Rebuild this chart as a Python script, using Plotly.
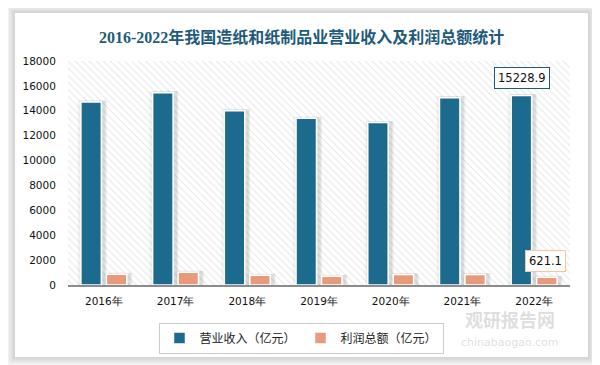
import plotly.graph_objects as go

# ---- data ----
years = ["2016年", "2017年", "2018年", "2019年", "2020年", "2021年", "2022年"]
revenue = [14700, 15450, 14000, 13400, 13050, 15050, 15228.9]
profit = [860, 1020, 780, 700, 835, 840, 621.1]
rev_name = "营业收入（亿元）"
pro_name = "利润总额（亿元）"
title_text = "2016-2022年我国造纸和纸制品业营业收入及利润总额统计"
y_ticks = list(range(0, 18001, 2000))

# ---- geometry / style ----
# the page body has an 8px margin, so the figure is 8px smaller and
# all page coordinates are converted by subtracting that offset
OFF = 8
W, H = 600 - OFF, 365 - OFF
PL, PR, PT, PB = 68, 570, 61, 285          # plot area in page pixels
L, R, T, B = PL - OFF, 600 - PR, PT - OFF, 365 - PB
PW, PH = W - L - R, H - T - B
REV_C = "#1c6b8f"
PRO_C = "#e89b7b"
TITLE_C = "#1e5b7a"
TICK_FONT = dict(family="Tahoma, DejaVu Sans, sans-serif", size=10.5, color="#111")


def px_x(p):
    return (p - PL) / PW


def px_y(p):
    return (PB - p) / PH


fig = go.Figure()

# hatched plot-area background (base axes, drawn beneath the bars)
fig.add_trace(go.Scatter(
    x=[0, 1, 1, 0, 0], y=[0, 0, 1, 1, 0], xaxis="x", yaxis="y",
    mode="none", fill="toself", fillcolor="white",
    fillpattern=dict(shape="\\", size=5, solidity=0.18, fgcolor="#c9c9c9", bgcolor="white"),
    hoverinfo="skip", showlegend=False))

BW = 0.285
REV_OFF = -0.32
PRO_OFF = 0.035

# soft shadows (several faint layers to imitate a blur)
for dx, extra, alpha in [(0.0, 0.13, 0.03), (0.008, 0.09, 0.045), (0.016, 0.05, 0.06)]:
    fig.add_trace(go.Bar(x=years, y=[v + 120 for v in revenue], xaxis="x2", yaxis="y2",
                         width=BW + extra, offset=REV_OFF - extra / 2 + dx + 0.015,
                         marker=dict(color=f"rgba(0,0,0,{alpha})", line=dict(width=0)),
                         hoverinfo="skip", showlegend=False))
    fig.add_trace(go.Bar(x=years, y=[v + 120 for v in profit], xaxis="x2", yaxis="y2",
                         width=BW + extra, offset=PRO_OFF - extra / 2 + dx + 0.015,
                         marker=dict(color=f"rgba(0,0,0,{alpha})", line=dict(width=0)),
                         hoverinfo="skip", showlegend=False))

fig.add_trace(go.Bar(x=years, y=revenue, name=rev_name, xaxis="x2", yaxis="y2",
                     width=BW, offset=REV_OFF,
                     marker=dict(color=REV_C, line=dict(color="white", width=1.5))))
fig.add_trace(go.Bar(x=years, y=profit, name=pro_name, xaxis="x2", yaxis="y2",
                     width=BW, offset=PRO_OFF,
                     marker=dict(color=PRO_C, line=dict(color="white", width=1.5))))

# card with shadow
shapes = []
cx0, cx1, cy0, cy1 = 15, 588, 13, 357
for i in range(6, 0, -1):
    shapes.append(dict(type="rect", xref="paper", yref="paper", layer="below",
                       x0=px_x(cx0 - i * 1.5), x1=px_x(cx1 + i * 1.5),
                       y0=px_y(cy1 + i * 1.5), y1=px_y(cy0 - i * 1.5),
                       fillcolor="rgba(0,0,0,0.028)", line=dict(width=0)))
shapes.append(dict(type="rect", xref="paper", yref="paper", layer="below",
                   x0=px_x(cx0), x1=px_x(cx1), y0=px_y(cy1), y1=px_y(cy0),
                   fillcolor="white", line=dict(width=0)))

annotations = [
    dict(text=f"<b>{title_text}</b>", xref="paper", yref="paper",
         x=px_x(301), y=px_y(37), xanchor="center", yanchor="middle", showarrow=False,
         font=dict(family="Liberation Serif, Noto Sans CJK SC, serif", size=16, color=TITLE_C)),
    dict(text=f"{revenue[-1]}", x=years[-1], y=revenue[-1], xref="x2", yref="y2",
         xshift=-12.5, yshift=6, yanchor="bottom", showarrow=False,
         bgcolor="white", bordercolor=TITLE_C, borderwidth=1, borderpad=3,
         font=dict(family="Tahoma, DejaVu Sans, sans-serif", size=11.5, color="#111")),
    dict(text=f"{profit[-1]}", x=years[-1], y=profit[-1], xref="x2", yref="y2",
         xshift=11, yshift=5, yanchor="bottom", showarrow=False,
         bgcolor="white", bordercolor="#f5c6a0", borderwidth=1, borderpad=3,
         font=dict(family="Tahoma, DejaVu Sans, sans-serif", size=11.5, color="#111")),
    dict(text="<b>观研报告网</b>", xref="paper", yref="paper", x=px_x(510), y=px_y(319),
         xanchor="center", yanchor="middle", showarrow=False,
         font=dict(family="Noto Sans CJK SC", size=18, color="rgba(160,160,160,0.35)")),
    dict(text="chinabaogao.com", xref="paper", yref="paper", x=px_x(510), y=px_y(342),
         xanchor="center", yanchor="middle", showarrow=False,
         font=dict(family="DejaVu Sans", size=11, color="rgba(160,160,160,0.35)")),
]

fig.update_layout(
    width=W, height=H,
    margin=dict(l=L, r=R, t=T, b=B, pad=0, autoexpand=False),
    paper_bgcolor="white", plot_bgcolor="rgba(0,0,0,0)",
    barmode="overlay",
    showlegend=True,
    legend=dict(orientation="h", x=px_x(301), xanchor="center", y=px_y(338), yanchor="middle",
                bordercolor="#cccccc", borderwidth=1, bgcolor="white",
                font=dict(family="Noto Sans CJK SC", size=12, color="#222"),
                itemwidth=30, tracegroupgap=0),
    xaxis=dict(range=[0, 1], visible=False, fixedrange=True),
    yaxis=dict(range=[0, 1], visible=False, fixedrange=True),
    xaxis2=dict(overlaying="x", anchor="y2", type="category", categoryorder="array",
                categoryarray=years, range=[-0.5, len(years) - 0.5],
                showline=True, linecolor="#8c8c8c", linewidth=1.5, showgrid=False,
                ticks="outside", ticklen=6, tickcolor="rgba(0,0,0,0)", tickfont=TICK_FONT),
    yaxis2=dict(overlaying="y", anchor="x2", range=[0, 18000], tickvals=y_ticks,
                tickformat="d",
                showgrid=False, zeroline=False, showline=False,
                ticks="outside", ticklen=9, tickcolor="rgba(0,0,0,0)", tickfont=TICK_FONT),
    shapes=shapes,
    annotations=annotations,
)

fig.write_html("out.html")
